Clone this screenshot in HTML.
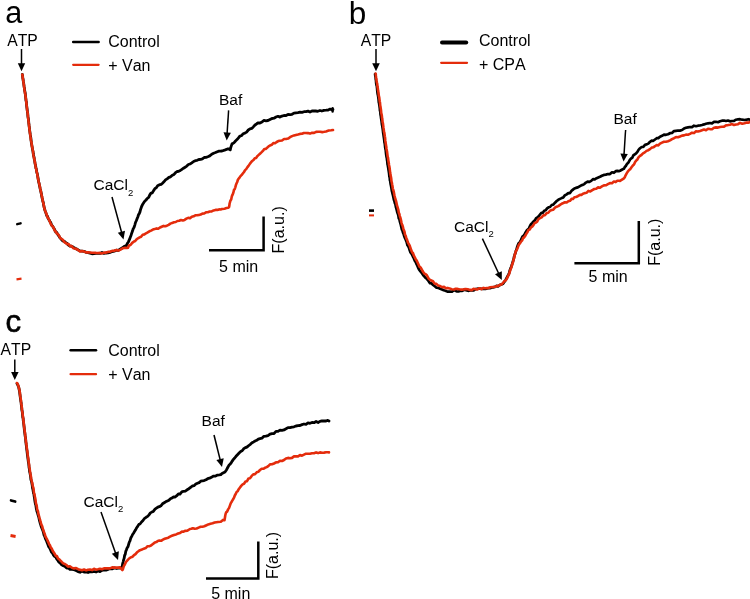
<!DOCTYPE html>
<html><head><meta charset="utf-8"><title>Figure</title>
<style>
html,body{margin:0;padding:0;background:#fff}
svg{display:block;will-change:transform;transform:translateZ(0)}
text{font-kerning:none;font-family:"Liberation Sans",sans-serif;fill:#000}
</style></head><body>
<svg width="750" height="599" viewBox="0 0 750 599">
<rect width="750" height="599" fill="#fff"/>
<path d="M22.3 74.5 L22.4 75.3 L22.6 76.2 L22.8 78.2 L23.0 78.9 L23.3 81.2 L23.6 82.7 L23.8 84.1 L24.1 86.7 L24.4 88.1 L24.7 90.8 L25.1 92.5 L25.4 94.8 L25.7 97.6 L26.0 100.5 L26.2 101.0 L26.4 102.7 L26.6 105.0 L26.8 107.1 L27.0 108.4 L27.2 109.9 L27.5 112.6 L27.7 113.2 L27.9 116.2 L28.1 117.4 L28.4 119.1 L28.6 121.0 L28.8 123.2 L29.1 125.9 L29.3 126.9 L29.5 129.4 L29.8 131.4 L30.0 132.8 L30.3 134.9 L30.5 136.0 L30.8 137.7 L31.0 139.6 L31.3 142.2 L31.6 143.9 L31.9 145.7 L32.3 148.0 L32.6 149.8 L33.0 151.5 L33.3 154.1 L33.6 155.8 L34.0 157.0 L34.3 159.3 L34.7 161.0 L35.0 163.2 L35.3 164.7 L35.6 165.7 L35.9 168.2 L36.2 168.6 L36.5 170.5 L36.8 172.4 L37.3 173.9 L37.7 176.4 L38.0 177.7 L38.4 180.3 L38.7 182.1 L39.1 183.4 L39.4 185.4 L39.7 186.2 L40.1 188.5 L40.5 190.1 L40.9 191.9 L41.3 193.6 L41.7 196.0 L42.1 198.1 L42.5 199.4 L42.9 201.6 L43.3 202.6 L43.7 205.4 L44.1 207.0 L44.6 209.2 L45.0 210.5 L45.6 211.8 L46.2 213.8 L46.8 215.8 L47.5 216.4 L48.2 218.5 L49.0 219.7 L50.0 221.5 L50.8 222.8 L51.7 225.4 L52.6 226.1 L53.6 227.9 L54.7 229.8 L55.8 232.1 L56.8 232.6 L57.9 234.7 L59.0 236.2 L60.0 237.9 L61.4 239.4 L62.9 240.9 L64.3 241.3 L65.7 242.6 L67.1 243.5 L68.6 245.2 L70.0 246.2 L71.7 246.2 L73.3 247.2 L75.0 248.2 L76.7 249.0 L78.3 250.1 L80.0 250.9 L82.0 251.1 L84.0 251.3 L86.0 252.3 L88.0 252.6 L90.0 253.1 L92.0 253.8 L94.0 253.6 L96.0 253.3 L98.0 253.4 L100.0 253.4 L102.0 252.4 L104.0 253.4 L106.0 253.0 L108.0 252.9 L110.0 252.4 L112.1 251.5 L114.3 251.1 L116.4 250.2 L118.4 250.5 L120.0 249.2 L122.5 247.8 L124.0 246.6 L126.5 245.4 L127.3 243.6 L128.4 241.9 L129.5 239.4 L130.3 237.2 L131.1 235.2 L131.8 232.9 L132.5 231.1 L133.3 228.5 L134.0 227.5 L134.8 225.1 L135.5 222.5 L136.3 220.7 L137.0 218.9 L137.8 217.0 L138.6 214.5 L139.2 213.8 L139.9 212.1 L140.6 209.4 L141.2 207.7 L141.6 206.5 L142.9 203.9 L144.5 201.4 L146.0 200.0 L147.6 198.1 L148.7 197.4 L149.8 194.9 L151.0 193.1 L152.3 192.8 L153.6 190.6 L155.0 188.5 L156.3 187.8 L157.6 185.8 L160.0 184.6 L161.1 184.4 L162.5 183.2 L163.9 181.8 L165.5 179.9 L167.1 178.8 L168.9 177.3 L170.6 176.8 L172.3 175.2 L174.0 174.4 L175.5 172.7 L177.1 171.5 L178.7 171.3 L180.3 170.5 L181.9 169.3 L183.5 168.2 L185.1 167.2 L186.8 166.1 L188.4 164.5 L190.0 164.0 L191.8 162.9 L193.6 161.5 L195.3 160.7 L197.1 160.3 L198.9 159.5 L200.7 159.3 L202.4 158.9 L204.2 157.5 L206.0 157.4 L207.8 156.7 L209.7 155.9 L211.7 154.2 L213.6 153.2 L215.5 152.5 L217.3 151.7 L219.0 151.1 L220.6 151.1 L222.0 151.0 L225.3 149.9 L227.5 149.0 L229.0 148.8 L230.3 149.8 L230.5 148.7 L230.9 147.1 L232.0 143.9 L232.9 143.5 L234.1 142.6 L235.5 141.0 L237.0 139.6 L238.5 137.8 L240.0 136.0 L241.6 135.6 L243.2 133.7 L244.9 133.1 L246.6 132.1 L248.3 130.0 L250.0 128.9 L251.7 128.4 L253.3 126.9 L255.0 125.0 L256.7 123.8 L258.3 122.8 L260.0 123.0 L262.0 122.0 L264.0 120.4 L266.0 120.8 L268.0 120.5 L270.0 119.5 L272.0 118.5 L274.0 118.2 L276.0 117.0 L278.0 116.3 L280.0 117.1 L282.0 116.1 L284.0 115.5 L286.0 115.6 L288.0 114.5 L290.0 114.7 L292.0 114.3 L294.0 113.1 L296.0 112.8 L298.0 112.6 L300.0 112.2 L302.0 112.4 L304.0 111.7 L306.0 111.7 L308.0 111.1 L310.0 112.0 L312.0 111.0 L313.9 111.0 L315.8 111.0 L317.8 111.3 L320.0 110.5 L321.8 111.0 L323.9 110.3 L326.0 110.2 L328.2 110.0 L330.1 109.1 L331.8 109.6 L333.0 109.6" fill="none" stroke="#000" stroke-width="2.8" stroke-linejoin="round" stroke-linecap="round"/>
<path d="M22.3 74.5 L22.4 75.1 L22.6 76.0 L22.8 78.4 L23.0 79.0 L23.3 81.1 L23.6 83.2 L23.8 84.8 L24.1 86.5 L24.4 88.8 L24.7 91.0 L25.1 93.5 L25.4 94.8 L25.7 97.8 L26.0 99.6 L26.2 101.2 L26.4 103.5 L26.6 104.8 L26.8 106.6 L27.0 108.6 L27.2 110.7 L27.5 111.9 L27.7 114.0 L27.9 115.7 L28.1 117.7 L28.4 119.9 L28.6 121.5 L28.8 123.5 L29.1 125.4 L29.3 128.0 L29.5 129.6 L29.8 131.7 L30.0 133.6 L30.3 134.5 L30.5 136.7 L30.8 139.0 L31.0 140.5 L31.3 141.5 L31.6 143.5 L31.9 145.9 L32.3 147.3 L32.6 149.5 L33.0 151.2 L33.3 153.9 L33.6 155.9 L34.0 157.9 L34.3 158.7 L34.7 161.2 L35.0 162.9 L35.3 163.8 L35.6 166.5 L35.9 168.2 L36.2 168.7 L36.5 171.2 L36.8 171.9 L37.3 174.3 L37.7 177.1 L38.0 178.8 L38.4 179.6 L38.7 181.7 L39.1 183.3 L39.4 184.7 L39.7 186.1 L40.1 187.9 L40.5 190.3 L40.9 191.1 L41.3 193.7 L41.7 195.4 L42.1 196.8 L42.5 199.2 L42.9 201.5 L43.3 203.2 L43.7 204.5 L44.1 207.5 L44.6 208.9 L45.0 210.7 L45.6 211.6 L46.2 213.6 L46.8 214.9 L47.5 217.4 L48.2 218.2 L49.0 219.7 L50.0 221.9 L50.8 224.0 L51.7 225.4 L52.6 226.3 L53.6 227.8 L54.7 230.5 L55.8 231.7 L56.8 233.5 L57.9 234.2 L59.0 235.5 L60.0 237.7 L61.4 238.9 L62.9 239.8 L64.3 242.2 L65.7 242.9 L67.1 244.1 L68.6 244.1 L70.0 246.1 L71.7 246.1 L73.3 248.2 L75.0 248.5 L76.7 249.2 L78.3 250.2 L80.0 251.4 L82.0 251.1 L84.0 251.5 L86.0 252.4 L88.0 252.4 L90.0 252.5 L92.0 252.7 L94.0 252.7 L96.0 252.9 L98.0 253.0 L100.0 252.9 L102.0 253.4 L104.0 252.6 L106.0 252.6 L108.0 251.9 L110.0 251.8 L112.1 250.9 L114.2 250.8 L116.4 250.0 L118.3 250.6 L120.0 249.9 L123.0 248.2 L125.0 247.8 L127.0 248.0 L127.9 247.8 L129.1 245.4 L130.5 245.0 L132.2 242.9 L134.0 241.5 L135.2 241.0 L136.6 239.3 L138.0 238.3 L139.6 237.4 L141.1 236.7 L142.7 234.7 L144.4 234.4 L146.0 233.3 L147.7 232.4 L149.4 231.3 L151.1 230.6 L152.9 229.6 L154.7 229.1 L156.5 228.4 L158.2 228.8 L160.0 227.5 L161.7 226.7 L163.5 225.9 L165.2 226.3 L166.9 225.7 L168.6 224.8 L170.4 223.6 L172.2 222.9 L174.0 222.3 L175.7 222.0 L177.4 221.0 L179.2 220.8 L181.0 220.0 L182.8 220.4 L184.6 219.9 L186.4 218.7 L188.2 217.8 L190.0 218.3 L191.8 216.8 L193.6 216.3 L195.3 215.3 L197.1 215.3 L198.9 214.9 L200.7 214.5 L202.4 213.6 L204.2 213.5 L206.0 212.3 L207.8 212.2 L209.7 211.5 L211.7 211.4 L213.6 210.4 L215.5 209.9 L217.3 209.9 L219.0 209.4 L220.6 209.5 L222.0 209.0 L224.5 208.7 L226.5 208.1 L228.0 207.8 L229.0 207.2 L229.3 205.9 L229.6 203.5 L230.0 202.1 L230.5 200.4 L231.2 199.4 L231.9 196.1 L232.6 194.7 L233.4 192.5 L234.0 189.9 L234.7 189.1 L235.3 187.3 L235.9 185.1 L236.5 183.6 L237.2 182.0 L238.0 179.5 L239.1 178.2 L240.3 176.4 L241.5 175.2 L242.8 173.5 L244.0 172.0 L245.1 170.1 L246.2 169.1 L247.3 167.4 L248.5 165.9 L250.0 163.6 L251.1 162.2 L252.2 161.0 L253.5 160.0 L254.8 158.2 L256.1 157.9 L257.4 156.1 L258.7 154.9 L260.0 153.7 L261.4 152.4 L262.9 150.9 L264.3 149.0 L265.7 149.0 L267.1 147.8 L268.6 146.4 L270.0 145.5 L271.7 144.8 L273.3 143.1 L275.0 143.3 L276.7 142.0 L278.3 141.1 L280.0 140.7 L282.0 140.5 L284.1 139.0 L286.1 139.0 L288.1 138.6 L290.0 137.2 L292.1 136.1 L294.0 135.4 L295.9 134.9 L298.0 134.4 L299.9 133.9 L301.9 133.8 L303.9 133.0 L306.0 133.0 L308.0 133.1 L310.0 133.6 L312.1 132.8 L314.1 132.9 L316.1 131.9 L318.0 131.8 L320.2 131.8 L322.2 132.1 L324.1 131.8 L326.0 131.4 L328.7 130.5 L331.2 130.3 L333.0 130.0" fill="none" stroke="#e42c0c" stroke-width="2.6" stroke-linejoin="round" stroke-linecap="round"/>
<path d="M332.6 108.2 V111.6" stroke="#000" stroke-width="2.4" stroke-linecap="round"/>
<path d="M17.2 224.2 L20.6 223.3" stroke="#000" stroke-width="2.4" stroke-linecap="round"/>
<path d="M16.5 279.3 L21.5 278.7" stroke="#e42c0c" stroke-width="2.2"/>
<text x="5.2" y="23.2" font-size="30.6" >a</text>
<text x="7.2" y="46" font-size="15.7" >ATP</text>
<line x1="21.5" y1="49.0" x2="21.5" y2="64.3" stroke="#000" stroke-width="1.5"/><polygon points="21.5,71.3 17.8,63.3 25.2,63.3" fill="#000"/>
<line x1="73.2" y1="42" x2="98.6" y2="42" stroke="#000" stroke-width="2.5" stroke-linecap="round"/>
<line x1="73.2" y1="64.8" x2="98.6" y2="64.8" stroke="#e42c0c" stroke-width="2.3" stroke-linecap="round"/>
<text x="108.2" y="46.6" font-size="16" >Control</text>
<text x="108.2" y="70.7" font-size="16" >+ Van</text>
<text x="93.5" y="190.3" font-size="15.5">CaCl<tspan font-size="9.5" dy="5.2">2</tspan></text>
<line x1="112.0" y1="197.0" x2="121.7" y2="232.7" stroke="#000" stroke-width="1.5"/><polygon points="123.5,239.5 117.8,232.8 125.0,230.8" fill="#000"/>
<text x="219" y="104.8" font-size="15.5" >Baf</text>
<line x1="228.6" y1="110.4" x2="227.1" y2="133.4" stroke="#000" stroke-width="1.5"/><polygon points="226.7,140.4 223.5,132.2 230.9,132.7" fill="#000"/>
<path d="M209 250.3 H263.6 V216.5" fill="none" stroke="#000" stroke-width="2.5"/>
<text x="219.1" y="271.7" font-size="16" >5 min</text>
<text transform="translate(284.3 253.4) rotate(-90)" font-size="16">F(a.u.)</text>
<path d="M375.1 74.0 L375.2 75.0 L375.4 76.2 L375.6 77.1 L375.8 79.7 L376.0 80.4 L376.2 83.3 L376.5 85.1 L376.8 85.8 L377.1 88.6 L377.3 91.2 L377.6 93.7 L378.0 95.3 L378.3 97.3 L378.6 99.6 L378.8 102.2 L379.0 102.7 L379.3 104.9 L379.5 106.1 L379.8 108.4 L380.0 110.8 L380.3 111.5 L380.5 114.4 L380.8 115.9 L381.1 118.3 L381.4 120.0 L381.6 121.3 L381.9 124.2 L382.2 125.6 L382.4 126.9 L382.7 128.7 L383.0 131.3 L383.2 133.1 L383.5 134.7 L383.7 136.2 L384.0 138.2 L384.2 139.7 L384.5 142.6 L384.8 143.6 L385.1 146.7 L385.4 148.9 L385.7 149.9 L386.0 153.0 L386.2 154.7 L386.5 156.8 L386.8 157.8 L387.0 159.7 L387.3 161.5 L387.5 164.1 L387.8 165.3 L388.0 166.6 L388.3 168.3 L388.5 169.7 L388.8 171.5 L389.1 173.6 L389.4 176.5 L389.7 177.5 L389.9 180.2 L390.2 180.9 L390.4 182.5 L390.7 184.5 L391.0 185.8 L391.4 187.9 L391.8 190.6 L392.2 192.3 L392.6 193.9 L393.0 195.5 L393.5 197.8 L393.9 199.7 L394.4 201.1 L394.9 203.3 L395.4 204.2 L395.9 207.1 L396.4 208.6 L396.9 210.8 L397.3 212.5 L397.8 213.7 L398.3 215.4 L398.8 218.5 L399.4 219.3 L399.9 221.7 L400.4 223.4 L400.9 225.1 L401.4 227.5 L401.9 229.6 L402.4 230.3 L403.0 232.6 L403.5 233.7 L404.2 236.0 L404.8 237.7 L405.5 239.1 L406.2 240.9 L406.8 242.6 L407.5 245.3 L408.3 246.4 L409.0 247.8 L409.8 250.6 L410.5 252.4 L411.3 253.4 L412.1 254.7 L412.9 256.6 L413.8 258.2 L414.6 260.4 L415.5 261.7 L416.3 263.6 L417.1 265.2 L417.9 267.1 L419.0 269.5 L420.1 271.0 L421.2 272.2 L422.3 273.8 L423.3 275.4 L424.4 276.5 L425.5 277.8 L427.0 279.1 L428.5 280.9 L430.0 283.2 L431.5 283.3 L433.1 285.0 L434.8 286.3 L436.5 287.7 L438.3 287.8 L440.1 288.8 L442.0 289.4 L443.8 290.2 L445.5 290.7 L447.4 291.6 L449.5 291.6 L452.0 291.7 L453.5 290.5 L455.1 290.5 L456.7 291.4 L458.5 291.5 L460.4 290.8 L462.3 290.8 L464.2 289.8 L466.1 290.2 L468.1 290.8 L470.0 290.5 L471.8 290.3 L473.7 290.3 L475.6 289.1 L477.6 288.7 L479.6 288.6 L481.6 288.9 L483.5 288.9 L485.4 289.0 L487.1 288.5 L488.6 288.2 L490.0 288.2 L492.9 287.3 L495.0 286.9 L496.6 285.8 L498.0 286.4 L500.5 284.6 L502.0 284.2 L502.9 283.8 L504.3 282.0 L505.8 279.6 L507.2 277.0 L507.9 275.7 L508.5 274.6 L509.2 272.9 L509.9 270.2 L510.6 268.1 L511.3 266.8 L511.9 265.0 L512.5 262.8 L513.1 260.8 L513.6 259.5 L514.1 256.8 L514.6 255.4 L515.0 253.8 L515.5 252.8 L516.0 250.7 L516.5 249.5 L517.2 246.9 L517.9 245.0 L518.6 243.4 L519.6 242.7 L520.8 240.3 L521.6 238.5 L522.5 236.6 L523.5 235.8 L524.5 234.5 L525.6 232.5 L526.7 230.6 L527.8 229.6 L528.9 228.4 L530.0 226.0 L531.0 224.3 L532.3 223.0 L533.6 221.5 L534.9 220.3 L536.1 218.2 L537.4 217.6 L538.7 216.2 L540.0 214.5 L541.4 212.8 L542.8 212.7 L544.2 210.7 L545.7 210.3 L547.1 208.4 L548.6 207.3 L550.0 207.0 L551.7 205.0 L553.3 204.6 L555.0 202.7 L556.7 201.0 L558.3 199.8 L560.0 198.9 L561.7 198.1 L563.3 197.4 L565.0 195.2 L566.7 194.4 L568.3 193.1 L570.0 193.1 L571.6 190.8 L573.0 189.6 L574.4 188.5 L575.9 187.9 L577.8 187.4 L580.0 186.1 L581.3 185.3 L582.8 184.9 L584.3 184.1 L585.9 182.6 L587.6 181.6 L589.4 181.9 L591.2 180.9 L593.0 179.1 L594.8 179.3 L596.6 178.2 L598.3 177.5 L600.0 176.8 L601.9 175.8 L603.9 174.9 L605.9 174.6 L607.9 174.0 L610.0 174.1 L612.0 172.3 L613.9 172.8 L615.7 171.2 L617.3 170.9 L618.8 171.1 L620.0 170.7 L623.2 169.0 L624.0 168.8 L624.8 167.0 L625.8 166.0 L627.0 163.9 L628.4 162.6 L630.0 159.6 L631.1 158.5 L632.2 157.9 L633.5 155.2 L634.8 154.3 L636.1 153.4 L637.4 151.9 L638.7 149.6 L640.0 148.3 L641.7 147.0 L643.3 146.9 L645.0 144.8 L646.7 144.4 L648.3 143.6 L650.0 141.8 L651.7 140.7 L653.3 140.8 L655.0 139.5 L656.7 138.2 L658.3 138.1 L660.0 136.7 L662.0 135.8 L664.0 134.6 L666.0 134.8 L668.0 134.3 L670.0 133.2 L672.0 133.0 L674.0 131.1 L676.0 130.8 L678.0 130.5 L680.0 130.6 L682.0 130.0 L684.0 128.6 L686.0 127.8 L688.0 127.4 L690.0 127.0 L692.0 127.1 L694.0 125.7 L696.0 126.2 L698.0 125.7 L700.0 125.5 L702.0 125.0 L704.0 124.4 L706.0 123.7 L708.0 123.3 L710.0 123.0 L712.0 123.3 L714.0 121.9 L716.0 121.8 L718.0 122.2 L720.0 121.2 L722.0 120.7 L724.0 120.5 L726.0 121.0 L728.0 120.5 L730.0 121.3 L732.0 121.0 L734.0 120.9 L736.0 119.7 L738.0 119.3 L740.0 119.2 L742.2 119.7 L744.5 120.0 L746.7 119.6 L748.6 119.2 L750.0 119.6" fill="none" stroke="#000" stroke-width="2.7" stroke-linejoin="round" stroke-linecap="round"/>
<path d="M375.6 73.5 L375.8 74.4 L375.9 75.9 L376.1 77.4 L376.4 79.1 L376.6 80.9 L376.9 82.5 L377.2 83.7 L377.5 86.8 L377.8 88.2 L378.1 90.8 L378.5 92.8 L378.8 95.6 L379.2 97.2 L379.5 99.6 L379.7 101.2 L380.0 102.7 L380.2 105.4 L380.5 106.7 L380.7 108.1 L381.0 110.1 L381.2 112.8 L381.5 114.0 L381.8 115.5 L382.1 118.3 L382.4 120.0 L382.6 122.4 L382.9 123.1 L383.2 125.6 L383.5 128.0 L383.8 129.9 L384.0 131.9 L384.3 132.5 L384.6 134.7 L384.8 136.2 L385.1 137.9 L385.3 140.7 L385.6 142.3 L385.9 144.9 L386.2 146.2 L386.5 149.0 L386.8 150.4 L387.1 152.1 L387.4 154.7 L387.7 156.9 L388.0 157.6 L388.3 160.1 L388.5 161.9 L388.8 163.0 L389.0 165.0 L389.3 166.3 L389.6 168.0 L389.8 169.7 L390.1 172.3 L390.4 174.4 L390.7 175.7 L391.0 177.2 L391.3 179.3 L391.5 181.5 L391.8 182.4 L392.1 184.3 L392.4 185.8 L392.8 188.5 L393.2 190.1 L393.6 191.1 L394.0 193.0 L394.4 195.2 L394.9 197.3 L395.4 199.3 L395.9 200.5 L396.4 202.5 L396.9 205.2 L397.4 206.7 L397.9 208.3 L398.4 210.2 L398.8 212.9 L399.3 213.7 L399.8 216.1 L400.4 217.7 L400.9 219.7 L401.4 222.2 L401.9 224.3 L402.4 225.2 L402.9 226.8 L403.4 229.3 L403.9 230.2 L404.5 231.7 L405.0 234.6 L405.7 235.8 L406.3 238.3 L407.0 239.5 L407.7 241.9 L408.3 243.1 L409.0 244.3 L409.8 245.8 L410.5 248.3 L411.3 250.2 L412.1 252.4 L413.0 253.1 L413.9 255.7 L414.8 257.3 L415.7 259.3 L416.7 260.6 L417.6 262.5 L418.5 264.5 L419.4 266.6 L420.7 267.5 L422.0 269.9 L423.2 272.0 L424.5 273.8 L425.7 274.2 L427.0 275.5 L428.5 278.3 L430.0 279.8 L431.4 280.5 L433.0 281.2 L434.6 283.6 L436.4 283.9 L438.2 285.6 L440.1 286.1 L442.1 287.2 L444.0 286.9 L445.9 288.3 L447.7 287.9 L449.5 288.4 L451.6 289.3 L454.0 289.5 L455.7 288.7 L457.5 288.9 L459.4 289.3 L461.4 289.6 L463.4 289.4 L465.6 289.1 L467.8 289.3 L470.0 289.9 L471.7 290.1 L473.6 288.7 L475.5 289.3 L477.5 289.4 L479.5 288.2 L481.5 289.1 L483.4 287.9 L485.3 288.3 L487.0 288.1 L488.6 288.0 L490.0 287.3 L492.9 287.0 L495.0 286.8 L496.6 286.1 L498.0 286.0 L500.5 284.7 L502.0 284.0 L502.9 283.0 L504.3 281.2 L505.8 280.4 L507.2 278.0 L507.9 276.3 L508.5 275.4 L509.2 273.7 L509.9 271.4 L510.6 269.2 L511.3 267.7 L511.9 265.3 L512.5 263.5 L513.0 262.1 L513.5 259.9 L513.9 258.6 L514.4 257.0 L514.8 254.5 L515.3 253.6 L515.8 251.1 L516.5 250.3 L517.3 248.7 L518.1 246.6 L519.1 244.3 L520.1 243.2 L521.1 241.4 L522.1 240.6 L523.1 238.0 L524.0 237.5 L525.2 235.9 L526.3 233.8 L527.4 232.3 L528.5 229.9 L529.7 229.5 L531.0 227.3 L532.2 226.6 L533.4 225.2 L534.7 222.9 L536.0 222.5 L537.3 221.4 L538.6 219.0 L540.0 218.2 L541.6 217.4 L543.3 215.4 L544.9 215.2 L546.6 213.1 L548.3 212.8 L550.0 210.7 L551.7 210.1 L553.3 209.7 L555.0 207.7 L556.7 206.7 L558.3 206.1 L560.0 204.9 L561.7 203.7 L563.3 203.0 L565.0 202.2 L566.7 202.5 L568.3 201.3 L570.0 200.8 L571.6 198.9 L573.0 199.0 L574.4 197.2 L575.9 197.0 L577.8 196.2 L580.0 194.8 L581.4 194.9 L583.0 193.8 L584.7 193.1 L586.5 192.8 L588.4 190.9 L590.3 191.4 L592.3 190.1 L594.3 189.0 L596.2 188.8 L598.1 187.4 L600.0 187.7 L601.9 186.4 L603.9 185.4 L605.9 185.3 L607.9 184.2 L610.0 183.1 L612.0 183.2 L613.9 181.6 L615.7 182.1 L617.3 180.8 L618.8 180.8 L620.0 180.9 L623.2 178.9 L624.0 178.2 L624.7 177.4 L625.6 175.3 L626.8 173.1 L628.0 171.3 L629.1 170.0 L630.3 169.1 L631.5 167.2 L632.8 165.6 L634.0 164.6 L635.1 162.0 L636.2 160.6 L637.3 159.7 L638.5 157.3 L640.0 155.8 L641.4 155.0 L643.0 153.4 L644.8 152.4 L646.5 150.9 L648.3 150.2 L650.0 149.1 L651.7 147.6 L653.3 147.3 L655.0 146.2 L656.7 145.0 L658.3 145.4 L660.0 143.6 L662.0 142.6 L664.0 141.7 L666.0 141.7 L668.0 141.3 L670.0 140.4 L672.0 139.1 L674.0 138.2 L676.0 137.1 L678.0 137.3 L680.0 136.5 L682.0 135.6 L684.0 135.4 L686.0 134.6 L688.0 134.7 L690.0 133.9 L692.0 132.7 L694.0 133.1 L696.0 131.3 L698.0 131.5 L700.0 130.9 L702.0 130.2 L704.0 129.5 L706.0 130.2 L708.0 128.7 L710.0 129.1 L712.0 129.2 L714.0 127.7 L716.0 127.4 L718.0 127.6 L720.0 127.0 L722.0 126.8 L724.0 126.6 L726.0 125.3 L728.0 125.1 L730.0 124.7 L732.0 124.1 L734.0 125.0 L736.0 124.5 L738.0 124.2 L740.0 122.9 L742.2 123.7 L744.5 123.2 L746.7 122.5 L748.6 122.6 L750.0 122.0" fill="none" stroke="#e42c0c" stroke-width="2.6" stroke-linejoin="round" stroke-linecap="round"/>
<path d="M369 210.6 H374" stroke="#000" stroke-width="2.6"/>
<path d="M369 215.4 H374" stroke="#e42c0c" stroke-width="2"/>
<text x="348.8" y="23.5" font-size="31.5" >b</text>
<text x="360.7" y="45.8" font-size="15.7" >ATP</text>
<line x1="376.0" y1="49.0" x2="376.0" y2="64.3" stroke="#000" stroke-width="1.5"/><polygon points="376.0,71.3 372.2,63.3 379.8,63.3" fill="#000"/>
<line x1="442" y1="42.6" x2="466.2" y2="42.6" stroke="#000" stroke-width="4" stroke-linecap="round"/>
<line x1="441.2" y1="62.8" x2="467" y2="62.8" stroke="#e42c0c" stroke-width="2.3" stroke-linecap="round"/>
<text x="479" y="46.4" font-size="16" >Control</text>
<text x="479" y="70.1" font-size="16" >+ CPA</text>
<text x="454" y="231.5" font-size="15.5">CaCl<tspan font-size="9.5" dy="5.2">2</tspan></text>
<line x1="482.4" y1="238.6" x2="498.8" y2="273.7" stroke="#000" stroke-width="1.5"/><polygon points="501.8,280.0 495.0,274.3 501.8,271.2" fill="#000"/>
<text x="613.5" y="123.6" font-size="15.5" >Baf</text>
<line x1="625.6" y1="130.0" x2="624.0" y2="154.6" stroke="#000" stroke-width="1.5"/><polygon points="623.6,161.6 620.4,153.4 627.8,153.9" fill="#000"/>
<path d="M574.4 263.2 H638.8 V221" fill="none" stroke="#000" stroke-width="2.5"/>
<text x="588.6" y="282.3" font-size="16" >5 min</text>
<text transform="translate(660.2 265.8) rotate(-90)" font-size="16">F(a.u.)</text>
<path d="M17.0 383.5 L17.4 384.4 L18.0 385.4 L18.7 387.2 L19.4 390.6 L19.6 391.7 L19.8 393.5 L20.1 395.7 L20.3 397.4 L20.6 399.4 L20.8 401.2 L21.1 402.5 L21.3 404.9 L21.6 406.8 L21.8 409.4 L22.1 411.1 L22.4 412.7 L22.6 415.2 L22.8 417.4 L23.1 418.2 L23.3 420.9 L23.5 421.5 L23.7 423.6 L23.9 425.4 L24.2 428.0 L24.4 430.1 L24.6 431.7 L24.8 433.0 L25.1 435.7 L25.3 436.8 L25.6 438.6 L25.8 441.6 L26.0 443.0 L26.2 444.9 L26.5 446.8 L26.7 449.1 L26.9 450.4 L27.2 452.9 L27.4 454.7 L27.7 456.9 L27.9 458.3 L28.2 460.6 L28.4 462.3 L28.7 463.8 L28.9 465.5 L29.1 467.9 L29.4 468.8 L29.6 471.6 L29.9 472.7 L30.3 474.6 L30.6 476.6 L30.9 479.6 L31.2 480.5 L31.6 482.0 L31.9 483.5 L32.2 485.2 L32.5 487.8 L32.9 489.4 L33.2 491.3 L33.5 493.1 L33.9 494.0 L34.2 496.6 L34.5 498.1 L34.8 500.5 L35.1 502.4 L35.5 504.3 L35.8 504.9 L36.2 507.9 L36.6 509.8 L37.0 511.6 L37.4 512.3 L37.9 514.3 L38.4 516.0 L38.9 517.7 L39.5 520.7 L40.0 522.5 L40.5 524.1 L41.1 526.2 L41.7 527.7 L42.2 529.0 L42.8 530.4 L43.4 532.3 L44.0 535.0 L44.6 536.0 L45.2 537.9 L45.9 539.7 L46.5 540.8 L47.2 542.8 L47.9 544.5 L48.7 546.7 L49.5 547.8 L50.4 549.4 L51.4 551.9 L52.4 552.9 L53.5 555.1 L54.5 556.4 L55.7 557.1 L56.8 559.1 L57.9 560.5 L59.0 562.3 L60.0 562.8 L61.7 564.8 L63.4 565.8 L65.0 566.4 L66.7 568.1 L68.3 567.7 L70.0 569.4 L72.0 569.3 L74.0 569.7 L76.0 570.5 L78.0 571.6 L80.0 572.3 L82.0 571.1 L84.0 572.0 L86.0 572.0 L88.0 572.5 L90.0 571.6 L92.0 571.9 L94.0 571.5 L96.0 572.0 L98.0 571.0 L100.0 571.6 L102.0 570.4 L104.0 569.8 L106.0 570.1 L108.0 569.4 L110.0 568.5 L112.1 568.9 L114.4 567.8 L116.6 568.5 L118.5 568.1 L120.0 568.0 L122.0 567.0 L122.3 566.0 L122.6 563.9 L123.1 562.0 L123.6 559.9 L124.1 558.4 L124.6 555.4 L125.2 554.5 L125.8 551.3 L126.5 549.6 L127.2 547.7 L128.0 546.6 L128.7 544.2 L129.3 542.1 L130.0 540.9 L130.8 538.0 L131.7 536.4 L132.6 534.5 L133.5 533.2 L134.5 531.6 L135.6 529.8 L136.7 527.7 L137.8 526.1 L138.9 524.4 L140.0 524.0 L141.5 522.0 L143.0 520.5 L144.6 518.3 L146.1 517.3 L147.6 516.4 L149.0 514.8 L150.4 512.9 L151.8 512.1 L153.3 511.4 L155.0 509.1 L156.4 508.1 L157.8 507.2 L159.3 506.7 L160.9 505.8 L162.5 503.8 L164.2 502.7 L166.0 501.6 L167.4 500.9 L168.9 500.2 L170.4 498.7 L172.0 498.0 L173.6 496.9 L175.2 497.0 L176.8 495.7 L178.4 493.9 L180.0 494.1 L181.8 491.9 L183.5 491.3 L185.3 491.1 L187.1 489.8 L188.9 488.7 L190.6 487.3 L192.3 486.0 L194.0 485.7 L195.8 484.0 L197.5 483.2 L199.1 482.6 L200.7 481.2 L202.3 480.9 L204.1 480.6 L206.0 479.7 L207.7 478.7 L209.5 478.2 L211.5 477.2 L213.6 476.1 L215.6 476.0 L217.5 475.1 L219.2 474.9 L220.8 474.6 L222.0 473.5 L225.0 472.0 L225.7 471.0 L226.6 469.7 L227.7 467.5 L228.9 465.3 L230.0 464.3 L231.1 462.9 L232.2 461.1 L233.4 459.4 L234.7 458.0 L236.0 456.3 L237.5 454.7 L239.1 453.0 L240.7 451.4 L242.4 450.5 L244.0 448.4 L245.6 447.6 L247.2 446.9 L248.8 445.5 L250.4 444.3 L252.0 442.7 L253.6 441.9 L255.1 441.0 L256.7 440.3 L258.3 439.1 L260.0 438.6 L261.9 438.2 L263.9 436.3 L265.9 436.2 L268.0 435.6 L270.0 434.2 L272.0 433.6 L274.0 433.5 L276.0 431.4 L278.0 431.4 L280.0 430.1 L282.0 430.3 L284.0 429.9 L286.0 428.8 L288.0 427.6 L290.0 427.7 L292.0 427.1 L294.0 426.8 L296.0 426.0 L298.0 425.7 L300.0 425.5 L302.0 424.6 L304.0 424.0 L306.0 424.4 L308.0 422.9 L310.0 423.3 L312.0 422.5 L314.0 422.7 L316.1 421.5 L318.1 422.5 L320.0 421.4 L322.0 420.8 L324.1 421.0 L326.1 421.0 L327.8 420.4 L329.0 421.0" fill="none" stroke="#000" stroke-width="2.8" stroke-linejoin="round" stroke-linecap="round"/>
<path d="M17.0 383.0 L17.4 383.7 L18.0 384.9 L18.7 387.2 L19.4 389.8 L19.6 391.0 L19.8 392.4 L20.1 394.7 L20.3 396.7 L20.6 397.9 L20.8 399.4 L21.1 402.2 L21.3 403.7 L21.6 405.5 L21.8 407.5 L22.1 410.4 L22.4 412.5 L22.6 414.2 L22.8 415.7 L23.1 417.7 L23.3 419.0 L23.5 421.8 L23.7 422.8 L23.9 425.0 L24.2 427.1 L24.4 428.9 L24.6 430.3 L24.8 431.9 L25.1 434.2 L25.3 435.5 L25.5 438.5 L25.8 439.8 L26.0 442.3 L26.3 443.3 L26.5 445.3 L26.7 447.1 L27.0 449.3 L27.3 451.0 L27.5 452.7 L27.8 455.7 L28.0 457.0 L28.3 458.9 L28.5 461.0 L28.8 463.1 L29.1 464.8 L29.3 466.9 L29.6 468.6 L29.8 469.8 L30.2 472.8 L30.5 474.7 L30.8 475.6 L31.2 478.5 L31.5 480.3 L31.9 481.9 L32.2 482.6 L32.6 485.3 L32.9 486.7 L33.3 487.5 L33.6 489.3 L33.9 492.5 L34.3 493.9 L34.6 495.1 L34.9 496.7 L35.3 498.6 L35.6 500.5 L35.9 503.1 L36.3 504.3 L36.7 505.9 L37.1 508.7 L37.5 510.4 L38.0 511.4 L38.4 514.2 L38.9 515.7 L39.4 517.8 L40.0 519.6 L40.5 521.7 L41.0 523.4 L41.6 525.3 L42.2 526.2 L42.7 528.6 L43.3 530.0 L44.0 532.3 L44.7 533.8 L45.4 536.3 L46.1 537.7 L46.9 539.1 L47.6 540.7 L48.4 542.3 L49.2 544.4 L50.0 545.4 L50.9 547.7 L51.9 548.9 L52.8 551.0 L53.8 552.5 L54.8 554.0 L55.8 555.9 L56.9 556.0 L58.0 558.5 L59.3 559.3 L60.7 560.8 L62.0 562.2 L63.5 563.6 L64.9 564.0 L66.4 565.0 L68.0 566.6 L69.9 566.3 L71.9 567.8 L74.0 568.4 L76.1 568.0 L78.1 569.2 L80.0 569.7 L82.1 570.3 L84.1 569.5 L86.1 570.4 L88.0 569.7 L90.0 569.6 L92.0 570.1 L94.0 568.8 L96.0 569.6 L98.0 569.3 L100.0 568.8 L102.0 569.3 L104.0 568.4 L106.0 568.4 L108.0 568.2 L110.0 568.4 L112.2 567.4 L114.5 567.6 L116.7 567.5 L118.6 567.6 L120.0 567.4 L122.4 570.0 L123.0 569.0 L123.8 566.1 L124.8 564.5 L126.0 561.9 L127.4 560.4 L129.1 558.5 L130.8 557.4 L132.6 556.7 L134.0 555.1 L135.5 554.1 L137.0 552.3 L138.5 551.2 L140.0 550.2 L141.9 549.6 L143.8 548.7 L145.7 548.1 L147.6 546.2 L149.3 546.2 L150.8 545.6 L152.6 544.2 L155.0 542.4 L156.3 542.1 L157.8 541.0 L159.4 540.5 L161.1 540.8 L162.9 539.6 L164.7 538.8 L166.5 538.2 L168.3 537.7 L170.0 536.6 L171.9 535.8 L174.0 535.0 L176.1 534.4 L178.1 533.5 L180.1 532.9 L182.0 531.6 L183.6 531.7 L185.0 530.9 L187.4 530.6 L190.0 529.0 L191.3 528.8 L192.9 528.2 L194.7 528.8 L196.6 528.5 L198.6 527.6 L200.6 526.7 L202.5 526.8 L204.3 526.3 L206.0 525.5 L208.3 524.4 L210.5 523.8 L212.6 523.3 L214.6 522.6 L216.4 522.2 L218.0 522.0 L220.8 521.7 L223.0 519.9 L224.5 520.2 L224.8 518.5 L225.3 515.2 L225.6 514.0 L226.2 512.3 L227.1 511.6 L228.1 509.4 L229.1 507.9 L230.0 505.4 L230.8 503.1 L231.5 502.0 L232.3 500.6 L233.1 499.3 L234.0 497.7 L234.8 495.5 L235.7 494.0 L236.6 492.0 L237.6 491.3 L238.7 489.2 L240.0 487.5 L241.2 485.9 L242.6 484.4 L244.0 483.8 L245.5 481.5 L247.0 481.2 L248.5 478.5 L250.0 478.3 L251.7 475.9 L253.3 474.4 L255.0 474.1 L256.7 472.3 L258.3 471.8 L260.0 470.0 L261.7 468.7 L263.3 468.8 L265.0 467.8 L266.7 467.1 L268.3 466.1 L270.0 464.4 L272.0 464.3 L274.0 463.5 L276.0 462.4 L278.0 462.3 L280.0 460.7 L282.0 461.0 L284.0 460.0 L286.0 458.4 L288.0 457.9 L290.0 458.2 L292.0 457.9 L294.0 456.4 L296.0 456.2 L298.0 456.4 L300.0 455.1 L302.0 455.7 L304.0 454.7 L306.0 453.7 L308.0 453.7 L310.0 453.7 L312.0 453.2 L314.0 453.3 L316.1 452.4 L318.1 453.1 L320.0 452.4 L322.0 452.7 L324.1 452.6 L326.1 452.3 L327.8 452.3 L329.0 452.4" fill="none" stroke="#e42c0c" stroke-width="2.6" stroke-linejoin="round" stroke-linecap="round"/>
<path d="M11 500.4 L15.2 501.6" stroke="#000" stroke-width="2.6" stroke-linecap="round"/>
<path d="M10.5 535.6 L15.6 536.4" stroke="#e42c0c" stroke-width="3"/>
<text x="5.4" y="331.6" font-size="31.3" stroke="#000" stroke-width="0.6">c</text>
<text x="0.6" y="354.9" font-size="15.7" >ATP</text>
<line x1="14.8" y1="359.4" x2="14.8" y2="373.0" stroke="#000" stroke-width="1.5"/><polygon points="14.8,380.0 11.1,372.0 18.6,372.0" fill="#000"/>
<line x1="70.6" y1="350.2" x2="96" y2="350.2" stroke="#000" stroke-width="2.5" stroke-linecap="round"/>
<line x1="70.6" y1="374.2" x2="96" y2="374.2" stroke="#e42c0c" stroke-width="2.3" stroke-linecap="round"/>
<text x="108.2" y="356.2" font-size="16" >Control</text>
<text x="108.2" y="380.2" font-size="16" >+ Van</text>
<text x="83.5" y="507" font-size="15.5">CaCl<tspan font-size="9.5" dy="5.2">2</tspan></text>
<line x1="101.0" y1="512.0" x2="115.7" y2="553.4" stroke="#000" stroke-width="1.5"/><polygon points="118.0,560.0 111.8,553.7 118.9,551.2" fill="#000"/>
<text x="201.6" y="426.4" font-size="15.5" >Baf</text>
<line x1="214.0" y1="435.0" x2="220.3" y2="460.2" stroke="#000" stroke-width="1.5"/><polygon points="222.0,467.0 216.4,460.1 223.7,458.3" fill="#000"/>
<path d="M206 578.5 H258.3 V541.5" fill="none" stroke="#000" stroke-width="2.5"/>
<text x="211.2" y="598.6" font-size="16" >5 min</text>
<text transform="translate(278.4 579) rotate(-90)" font-size="16">F(a.u.)</text>
</svg>
</body></html>
